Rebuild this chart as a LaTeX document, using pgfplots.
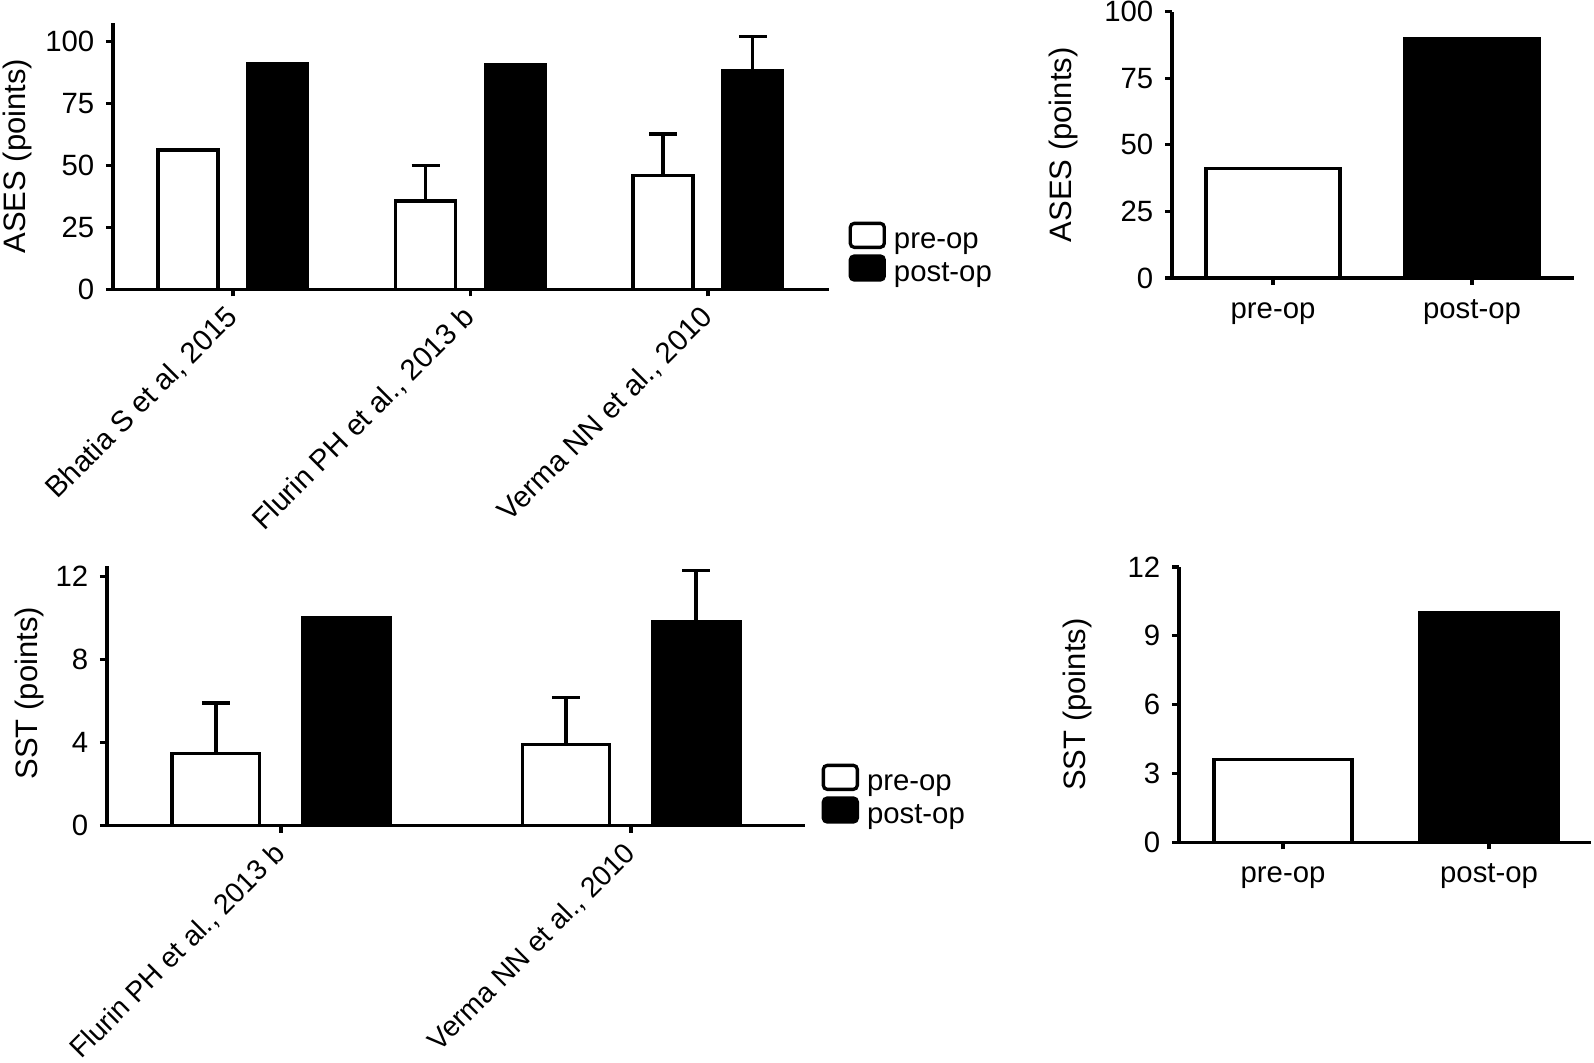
\documentclass[border=0pt]{standalone}
\usepackage{pgfplots}
\pgfplotsset{compat=1.18}
\usepackage{fontspec}
\setmainfont{Liberation Sans}
\newcommand{\tickfont}{\fontsize{8.8}{10}\selectfont}
\newcommand{\labfont}{\fontsize{9.3}{11}\selectfont}
\pgfplotsset{
  gp/.style={
    scale only axis,
    anchor=south west,
    axis x line=bottom, axis y line=left,
    axis line style={-, line width=1pt, black},
    tick style={black, line width=1pt},
    major tick length=2.1pt,
    tick align=outside,
    ymin=0,
    /pgf/number format/assume math mode=true,
    ticklabel style={font=\tickfont},
    xtick style={draw=black},
    ylabel style={font=\labfont},
    clip=false,
  },
  lgimg/.style={legend image code/.code={\draw[#1, line width=1pt, rounded corners=1.2pt] (0pt,-2pt) rectangle (10.2pt,5.2pt);}},
  prebar/.style={ybar, draw=black, fill=white, line width=1pt, bar shift=0},
  postbar/.style={ybar, draw=black, fill=black, line width=1pt, bar shift=0},
  eb/.style={error bars/.cd, y dir=plus, y explicit,
    error bar style={line width=1pt, black},
    error mark options={rotate=90, mark size=4.2pt, line width=1pt, black},
    /pgfplots/.cd},
  lg/.style={legend style={draw=none, fill=none, inner sep=0pt, font=\tickfont,
      nodes={inner sep=0pt, text height=6.5pt, text depth=1.9pt}, row sep=-0.1pt, column sep=2.4pt},
    legend cell align=left},
  flatlab/.style={xticklabel style={text height=6.5pt, text depth=1.9pt}},
}
\begin{document}
\begin{tikzpicture}
\useasboundingbox (0,0) rectangle (478.2pt,318.6pt);
% ---------------- top-left: ASES per study
\begin{axis}[gp,
  at={(33.9pt,231.8pt)}, width=214.8pt, height=79.9pt,
  xmin=0.495, xmax=3.51, ymax=107.5,
  ytick={0,25,50,75,100},
  xtick={1,2,3},
  xticklabels={{Bhatia S et al, 2015},{Flurin PH et al., 2013 b},{Verma NN et al., 2010}},
  xticklabel style={rotate=45, anchor=east, yshift=-3.4pt},
  ylabel={ASES (points)},
  ylabel style={at={(axis description cs:-0.1327,0.5)}, anchor=center},
  lg, legend style={at={(axis description cs:1.0265,0.2565)}, anchor=north west},
]
\addplot[forget plot, prebar, bar width=0.2526, eb]
  table[x=x, y=y, y error=e] {
x y e
0.811 56.3 0
1.811 35.7 14.2
2.811 45.9 16.8
};
\addplot[forget plot, postbar, bar width=0.2526, eb]
  table[x=x, y=y, y error=e] {
x y e
1.189 91.0 0
2.189 90.6 0
3.189 88.2 13.8
};
\addlegendimage{lgimg={fill=white, draw=black}}
\addlegendentry{pre-op}
\addlegendimage{lgimg={fill=black, draw=black}}
\addlegendentry{post-op}
\end{axis}
% ---------------- top-right: ASES pooled
\begin{axis}[gp, flatlab,
  at={(351.6pt,235.2pt)}, width=120.6pt, height=79.9pt,
  xmin=-0.508, xmax=1.513, ymax=100,
  ytick={0,25,50,75,100},
  xtick={0,1}, xticklabels={pre-op,post-op},
  ylabel={ASES (points)},
  ylabel style={at={(axis description cs:-0.271,0.5)}, anchor=center},
]
\addplot[prebar, bar width=0.673] coordinates {(0,41.0)};
\addplot[postbar, bar width=0.673] coordinates {(1,90.0)};
\end{axis}
% ---------------- bottom-left: SST per study
\begin{axis}[gp,
  at={(32.1pt,70.89pt)}, width=209.4pt, height=77.9pt,
  xmin=0.503, xmax=2.497, ymax=12.5,
  ytick={0,4,8,12},
  xtick={1,2},
  xticklabels={{Flurin PH et al., 2013 b},{Verma NN et al., 2010}},
  xticklabel style={rotate=45, anchor=east, yshift=-3.4pt, font=\fontsize{8.5}{10}\selectfont},
  ylabel={SST (points)},
  ylabel style={at={(axis description cs:-0.1117,0.51)}, anchor=center},
  lg, legend style={at={(axis description cs:1.0229,0.2414)}, anchor=north west},
]
\addplot[forget plot, prebar, bar width=0.25, eb]
  table[x=x, y=y, y error=e] {
x y e
0.814 3.49 2.41
1.814 3.92 2.25
};
\addplot[forget plot, postbar, bar width=0.25, eb]
  table[x=x, y=y, y error=e] {
x y e
1.186 10.0 0
2.186 9.83 2.44
};
\addlegendimage{lgimg={fill=white, draw=black}}
\addlegendentry{pre-op}
\addlegendimage{lgimg={fill=black, draw=black}}
\addlegendentry{post-op}
\end{axis}
% ---------------- bottom-right: SST pooled
\begin{axis}[gp, flatlab,
  at={(353.7pt,65.91pt)}, width=123.6pt, height=82.6pt,
  xmin=-0.505, xmax=1.495, ymax=12,
  ytick={0,3,6,9,12},
  xtick={0,1}, xticklabels={pre-op,post-op},
  ylabel={SST (points)},
  ylabel style={at={(axis description cs:-0.2476,0.5)}, anchor=center},
]
\addplot[prebar, bar width=0.67] coordinates {(0,3.6)};
\addplot[postbar, bar width=0.67] coordinates {(1,10.0)};
\end{axis}
\end{tikzpicture}
\end{document}
